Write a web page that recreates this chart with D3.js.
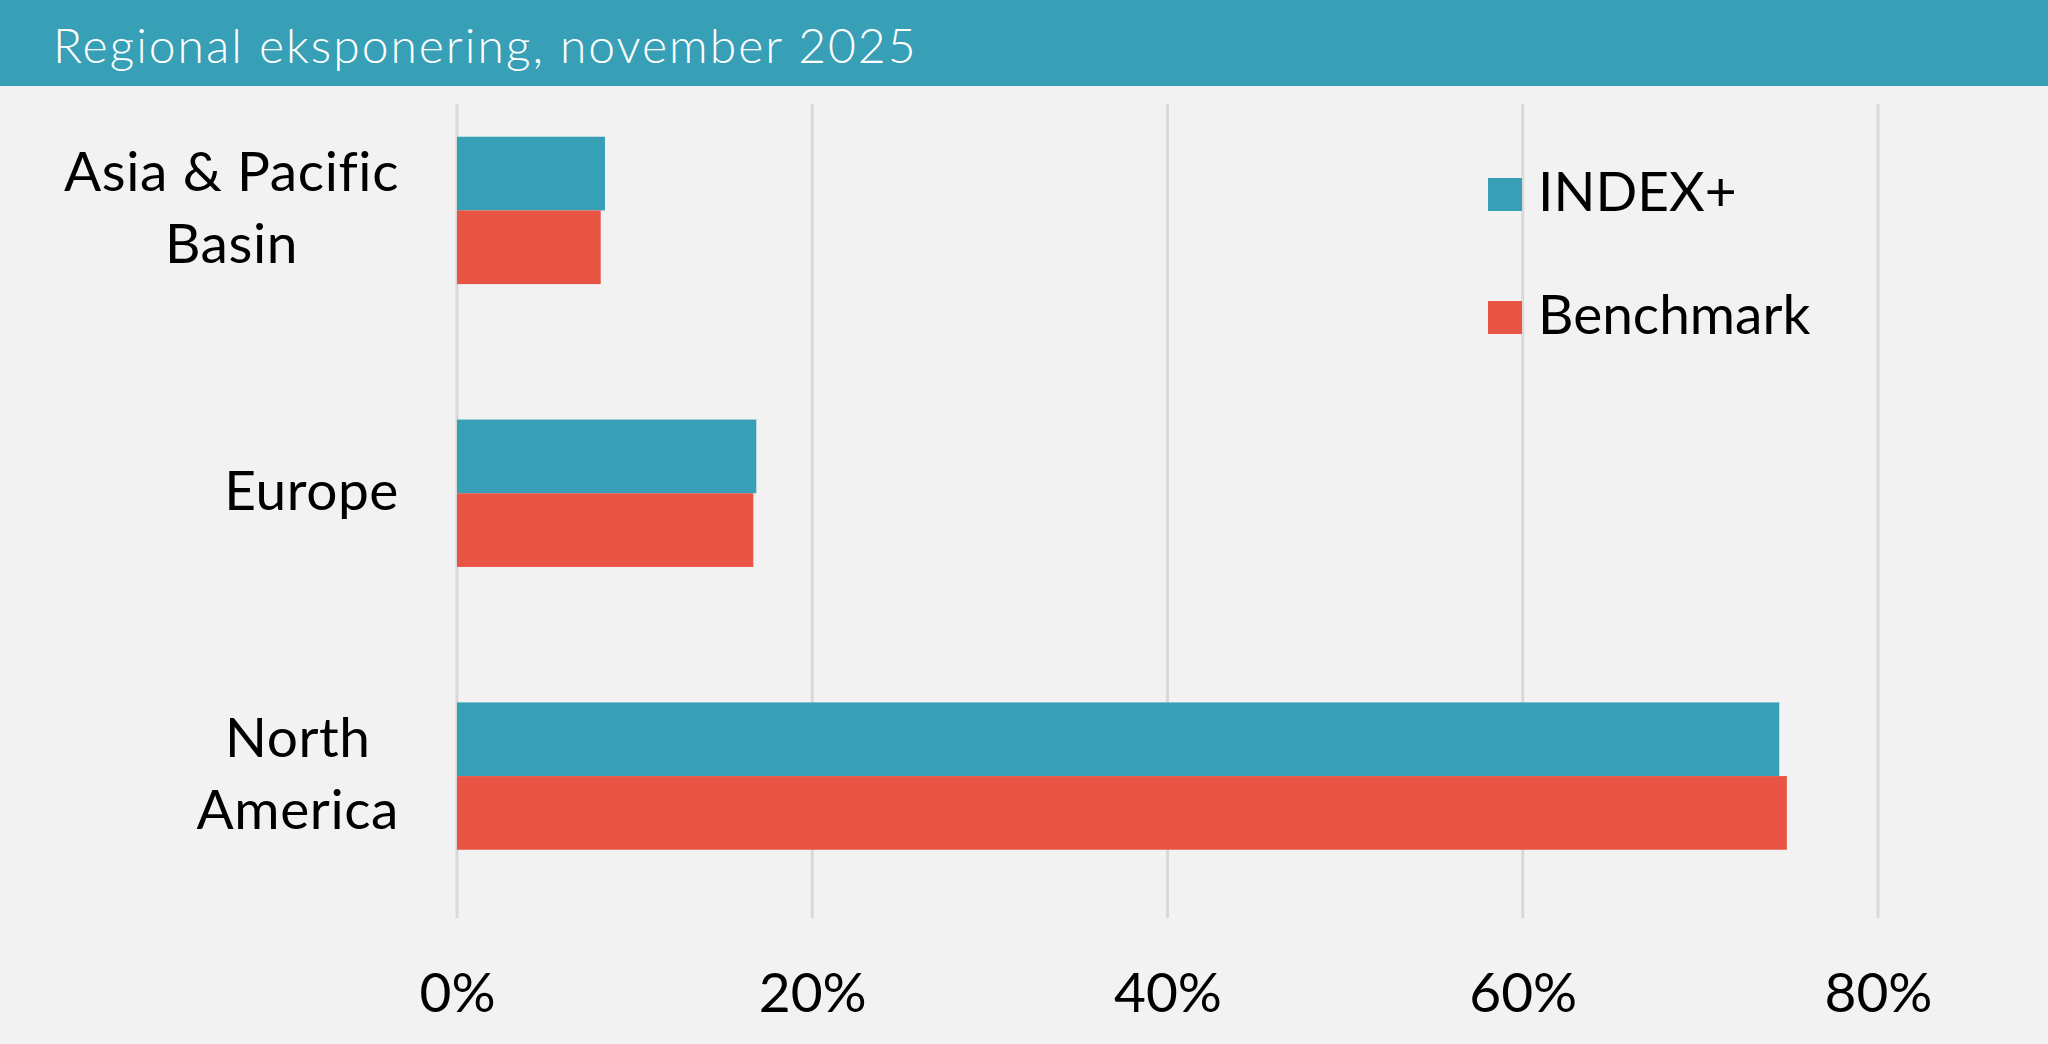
<!DOCTYPE html>
<html>
<head>
<meta charset="utf-8">
<script src="https://cdn.jsdelivr.net/npm/d3@7/dist/d3.min.js"></script>
<style>
  html, body { margin: 0; padding: 0; background: #f2f2f2; }
  svg { display: block; }
  text { font-family: Lato, "Noto Sans", sans-serif; }
</style>
</head>
<body>
<svg id="chart" width="2048" height="1044"></svg>
<script>
// ---- data ----
const title = "Regional eksponering, november 2025";
const categories = ["Asia & Pacific Basin", "Europe", "North America"];
const categoryLines = [["Asia & Pacific", "Basin"], ["Europe"], ["North", "America"]];
const seriesNames = ["INDEX+", "Benchmark"];
const indexPlus = [8.33, 16.85, 74.44];
const benchmark = [8.09, 16.68, 74.87];
const xTicks = [0, 20, 40, 60, 80];

// ---- styles / layout ----
const W = 2048, H = 1044;
const teal = "#379fb6", red = "#e85545";
const colors = [teal, red];
const seriesValues = [indexPlus, benchmark];

const svg = d3.select("#chart");
svg.append("rect").attr("width", W).attr("height", H).attr("fill", "#f2f2f2");

// header
svg.append("rect").attr("x", 0).attr("y", 0).attr("width", W).attr("height", 86).attr("fill", teal);
svg.append("text").attr("x", 53).attr("y", 63)
  .attr("fill", "#ffffff").attr("font-size", 48).attr("font-weight", 300)
  .attr("letter-spacing", 2)
  .text(title);

const x = d3.scaleLinear().domain([0, 80]).range([457, 1878]);
const y = d3.scaleBand().domain(categories).range([69, 917.5])
  .paddingInner(0.479).paddingOuter(0.2395);
const ySub = d3.scaleBand().domain(seriesNames).range([0, y.bandwidth()]).padding(0);

// gridlines
const gridTop = 104, gridBottom = 918;
svg.append("g").selectAll("line").data(xTicks).join("line")
  .attr("x1", d => x(d)).attr("x2", d => x(d))
  .attr("y1", gridTop).attr("y2", gridBottom)
  .attr("stroke", "#d9d9d9").attr("stroke-width", 3);

// x axis labels via d3 axis
const xAxis = d3.axisBottom(x).tickValues(xTicks).tickFormat(d => d + "%").tickSize(0).tickPadding(0);
const gx = svg.append("g").attr("transform", "translate(0,1012)").call(xAxis);
gx.select(".domain").remove();
gx.selectAll("text")
  .attr("font-family", "Lato, 'Noto Sans', sans-serif")
  .attr("font-size", 55).attr("fill", "#000").attr("dy", 0).attr("y", 0);

// bars
const rows = categories.map((c, i) => ({ c, i }));
const groups = svg.append("g").selectAll("g").data(rows).join("g")
  .attr("transform", d => `translate(0,${y(d.c)})`);
groups.selectAll("rect").data(d => seriesNames.map((s, k) => ({ s, k, v: seriesValues[k][d.i] })))
  .join("rect")
  .attr("x", x(0))
  .attr("y", d => ySub(d.s))
  .attr("width", d => x(d.v) - x(0))
  .attr("height", ySub.bandwidth())
  .attr("fill", d => colors[d.k]);

// category labels (multi-line, centered lines, block right-aligned)
const labelRight = 399, lineH = 72, fs = 55;
rows.forEach(r => {
  const lines = categoryLines[r.i];
  const cy = y(r.c) + y.bandwidth() / 2;
  const t = svg.append("text").attr("font-size", fs).attr("fill", "#000")
    .attr("text-anchor", "middle").attr("letter-spacing", 0.6);
  lines.forEach((ln, j) => {
    t.append("tspan").attr("x", 0)
      .attr("y", cy + 17 + (j - (lines.length - 1) / 2) * lineH)
      .text(ln);
  });
  const bw = t.node().getBBox().width;
  t.selectAll("tspan").attr("x", labelRight - bw / 2);
});

// legend
const legY = [178, 301];
const leg = svg.append("g").selectAll("g").data(seriesNames).join("g")
  .attr("transform", (d, i) => `translate(1488,${legY[i]})`);
leg.append("rect").attr("width", 34).attr("height", 33).attr("fill", (d, i) => colors[i]);
leg.append("text").attr("x", 50).attr("y", 33).attr("font-size", 55).attr("fill", "#000").text(d => d);
</script>
</body>
</html>
